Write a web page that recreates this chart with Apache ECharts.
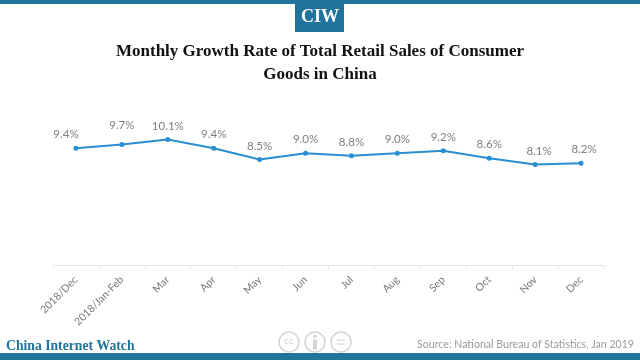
<!DOCTYPE html>
<html><head><meta charset="utf-8">
<style>html,body{margin:0;padding:0;background:#fff}#c{width:640px;height:360px}</style>
<script src="https://cdn.jsdelivr.net/npm/echarts@6/dist/echarts.min.js"></script>
</head><body><div id="c"></div>
<script>
const categories = ['2018/Dec','2018/Jan-Feb','Mar','Apr','May','Jun','Jul','Aug','Sep','Oct','Nov','Dec'];
const growth = [9.4,9.7,10.1,9.4,8.5,9.0,8.8,9.0,9.2,8.6,8.1,8.2];
const titleLines = 'Monthly Growth Rate of Total Retail Sales of Consumer\nGoods in China';
const brand = 'China Internet Watch';
const source = 'Source: National Bureau of Statistics, Jan 2019';
const labelShift = {0:[-10,0],1:[0,-6],10:[4,0],11:[3,0]};
const teal = '#20739b', grey = '#d4d4d4';
const chart = echarts.init(document.getElementById('c'), null, {renderer:'canvas'});
chart.setOption({
  animation:false,
  title:{text:titleLines,left:320,textAlign:'center',top:40,padding:0,
    textStyle:{fontFamily:'Liberation Serif',fontWeight:'bold',fontSize:17,lineHeight:23,color:'#111'}},
  grid:{left:53,right:36,top:116,height:149},
  xAxis:{type:'category',data:categories,boundaryGap:true,
    axisLine:{lineStyle:{color:'#e6e6e6',width:1}},
    axisTick:{show:true,length:4,lineStyle:{color:'#e6e6e6'},inside:false},
    axisLabel:{rotate:45,interval:0,fontFamily:'Lato',fontSize:10.5,color:'#777',margin:13}},
  yAxis:{type:'value',min:0,max:12,show:false},
  series:[{type:'line',data:growth.map((v,i)=>labelShift[i]?{value:v,label:{offset:labelShift[i]}}:v),
    symbol:'circle',symbolSize:5,
    lineStyle:{color:'#2a8fd0',width:2},itemStyle:{color:'#2a8fd0'},
    label:{show:true,position:'top',distance:5,formatter:p=>p.value.toFixed(1)+'%',
      fontFamily:'Lato',fontSize:11.5,color:'#808080'}}],
  graphic:[
    {type:'rect',shape:{x:0,y:0,width:640,height:4},style:{fill:teal},silent:true},
    {type:'rect',shape:{x:295,y:0,width:49,height:32},style:{fill:teal},silent:true},
    {type:'text',style:{x:320,y:17,text:'CIW',align:'center',verticalAlign:'middle',fill:'#fff',font:'bold 18px "Liberation Serif"'},silent:true},
    {type:'rect',shape:{x:0,y:353,width:640,height:7},style:{fill:teal},silent:true},
    {type:'text',style:{x:6,y:346,text:brand,align:'left',verticalAlign:'middle',fill:teal,font:'bold 13.7px "Liberation Serif"'},silent:true},
    {type:'text',style:{x:634,y:345,text:source,align:'right',verticalAlign:'middle',fill:'#9a9a9a',font:'10.6px Lato'},silent:true},
    {type:'circle',shape:{cx:289,cy:342,r:10},style:{fill:'none',stroke:grey,lineWidth:1.5},silent:true},
    {type:'text',style:{x:289,y:342,text:'cc',align:'center',verticalAlign:'middle',fill:grey,font:'9px "DejaVu Sans"'},silent:true},
    {type:'circle',shape:{cx:315,cy:342,r:10},style:{fill:'none',stroke:grey,lineWidth:1.5},silent:true},
    {type:'circle',shape:{cx:315,cy:336.5,r:1.8},style:{fill:grey},silent:true},
    {type:'rect',shape:{x:313,y:339.5,width:4,height:10},style:{fill:grey},silent:true},
    {type:'circle',shape:{cx:341,cy:342,r:10},style:{fill:'none',stroke:grey,lineWidth:1.5},silent:true},
    {type:'rect',shape:{x:337,y:339.5,width:8,height:1.2},style:{fill:grey},silent:true},
    {type:'rect',shape:{x:337,y:343.5,width:8,height:1.2},style:{fill:grey},silent:true}
  ]
});
</script></body></html>
